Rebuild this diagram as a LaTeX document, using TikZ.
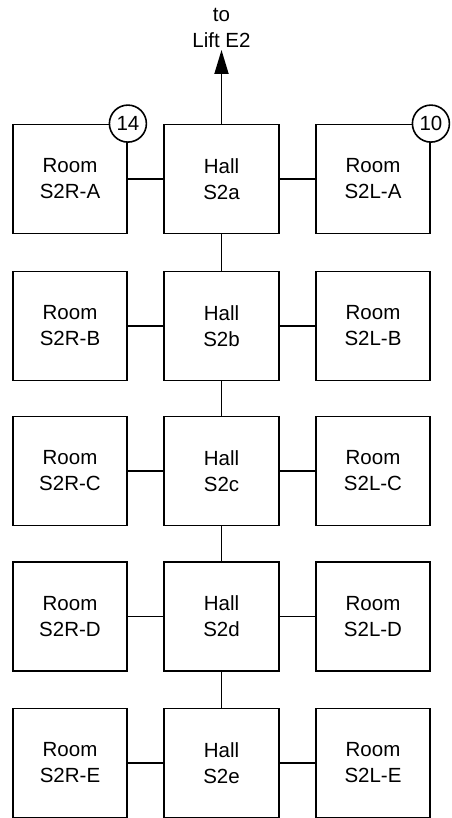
\documentclass[tikz,border=0pt]{standalone}
\usepackage{fontspec}
\setmainfont{Liberation Sans}
\usetikzlibrary{arrows.meta}
\begin{document}
\begin{tikzpicture}[x=1pt,y=-1pt,
  box/.style={draw, line width=1.8pt, minimum width=114pt, minimum height=109pt, inner sep=0pt, align=center, font=\fontsize{20.5}{26}\selectfont},
  hall/.style={box, minimum width=115pt},
  num/.style={draw, circle, fill=white, line width=1.6pt, minimum size=37pt, inner sep=0pt, font=\fontsize{20.5}{20.5}\selectfont},
  link/.style={line width=1.8pt},
  lbl/.style={align=center, inner sep=0pt, font=\fontsize{20.5}{26}\selectfont}]
\useasboundingbox (0,0) rectangle (451,818);
\node[box] (rA) at (70,179) {Room\\S2R-A};
\node[hall] (hA) at (221.5,179) {Hall\\S2a};
\node[box] (lA) at (373,179) {Room\\S2L-A};
\node[box] (rB) at (70,326) {Room\\S2R-B};
\node[hall] (hB) at (221.5,326) {Hall\\S2b};
\node[box] (lB) at (373,326) {Room\\S2L-B};
\node[box] (rC) at (70,471) {Room\\S2R-C};
\node[hall] (hC) at (221.5,471) {Hall\\S2c};
\node[box] (lC) at (373,471) {Room\\S2L-C};
\node[box] (rD) at (70,616.5) {Room\\S2R-D};
\node[hall] (hD) at (221.5,616.5) {Hall\\S2d};
\node[box] (lD) at (373,616.5) {Room\\S2L-D};
\node[box] (rE) at (70,763) {Room\\S2R-E};
\node[hall] (hE) at (221.5,763) {Hall\\S2e};
\node[box] (lE) at (373,763) {Room\\S2L-E};
% numbered circles
\node[num] (n14) at (rA.north east) {14};
\node[num] (n10) at (lA.north east) {10};
% lift label and arrow
\node[lbl] (lift) at (221.5,28) {to\\Lift E2};
\coordinate (tip) at (221.5,50);
\draw[link, -{Triangle[length=24pt,width=14pt]}] (hA.north) -- (tip);
% connectors
\foreach \k in {A,B,C,D,E}{
  \draw[link] (r\k) -- (h\k);
  \draw[link] (h\k) -- (l\k);
}
\draw[link] (hA) -- (hB);
\draw[link] (hB) -- (hC);
\draw[link] (hC) -- (hD);
\draw[link] (hD) -- (hE);
\end{tikzpicture}
\end{document}
